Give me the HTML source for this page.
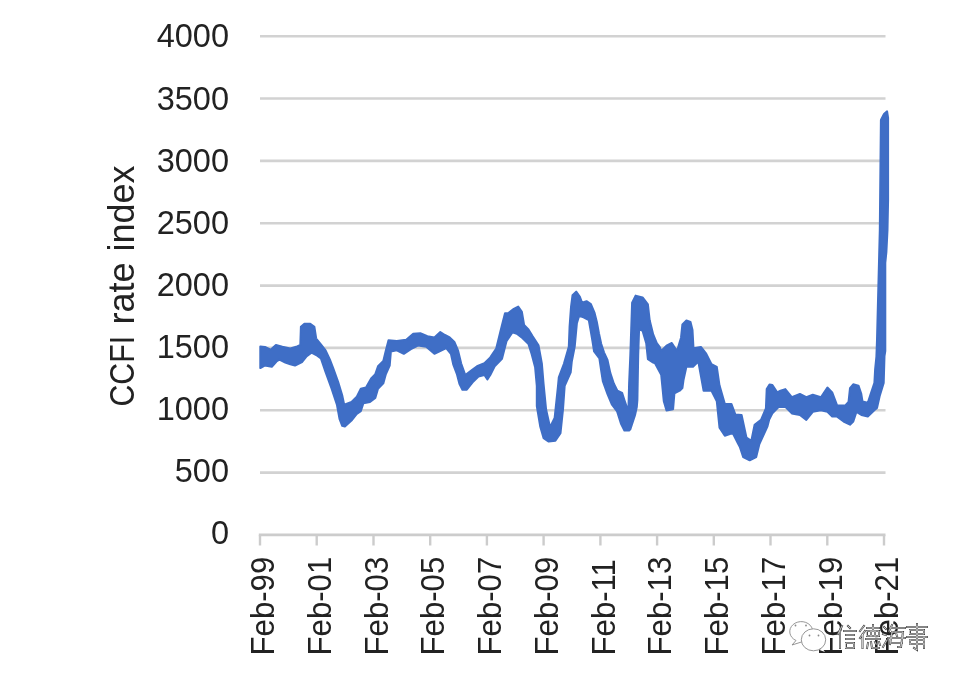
<!DOCTYPE html>
<html><head><meta charset="utf-8"><style>
html,body{margin:0;padding:0;background:#fff;width:960px;height:680px;overflow:hidden}
svg{display:block;filter:blur(0.45px)}
text{font-family:"Liberation Sans",sans-serif;fill:#222}
</style></head><body>
<svg width="960" height="680" viewBox="0 0 960 680">
<rect width="960" height="680" fill="#fff"/>
<line x1="260" y1="36.2" x2="885.5" y2="36.2" stroke="#d2d2d2" stroke-width="2.6"/><line x1="260" y1="98.5" x2="885.5" y2="98.5" stroke="#d2d2d2" stroke-width="2.6"/><line x1="260" y1="160.9" x2="885.5" y2="160.9" stroke="#d2d2d2" stroke-width="2.6"/><line x1="260" y1="223.2" x2="885.5" y2="223.2" stroke="#d2d2d2" stroke-width="2.6"/><line x1="260" y1="285.6" x2="885.5" y2="285.6" stroke="#d2d2d2" stroke-width="2.6"/><line x1="260" y1="347.9" x2="885.5" y2="347.9" stroke="#d2d2d2" stroke-width="2.6"/><line x1="260" y1="410.2" x2="885.5" y2="410.2" stroke="#d2d2d2" stroke-width="2.6"/><line x1="260" y1="472.6" x2="885.5" y2="472.6" stroke="#d2d2d2" stroke-width="2.6"/><line x1="258.8" y1="534.9" x2="885.5" y2="534.9" stroke="#cccccc" stroke-width="2.6"/><line x1="260.0" y1="534.9" x2="260.0" y2="545.5" stroke="#cccccc" stroke-width="2.4"/><line x1="316.7" y1="534.9" x2="316.7" y2="545.5" stroke="#cccccc" stroke-width="2.4"/><line x1="373.5" y1="534.9" x2="373.5" y2="545.5" stroke="#cccccc" stroke-width="2.4"/><line x1="430.2" y1="534.9" x2="430.2" y2="545.5" stroke="#cccccc" stroke-width="2.4"/><line x1="486.9" y1="534.9" x2="486.9" y2="545.5" stroke="#cccccc" stroke-width="2.4"/><line x1="543.6" y1="534.9" x2="543.6" y2="545.5" stroke="#cccccc" stroke-width="2.4"/><line x1="600.4" y1="534.9" x2="600.4" y2="545.5" stroke="#cccccc" stroke-width="2.4"/><line x1="657.1" y1="534.9" x2="657.1" y2="545.5" stroke="#cccccc" stroke-width="2.4"/><line x1="713.8" y1="534.9" x2="713.8" y2="545.5" stroke="#cccccc" stroke-width="2.4"/><line x1="770.5" y1="534.9" x2="770.5" y2="545.5" stroke="#cccccc" stroke-width="2.4"/><line x1="827.3" y1="534.9" x2="827.3" y2="545.5" stroke="#cccccc" stroke-width="2.4"/><line x1="884.0" y1="534.9" x2="884.0" y2="545.5" stroke="#cccccc" stroke-width="2.4"/>
<g font-size="32.5" ><text transform="translate(229,47.4) scale(1.0,1)" text-anchor="end">4000</text><text transform="translate(229,109.5) scale(1.0,1)" text-anchor="end">3500</text><text transform="translate(229,171.6) scale(1.0,1)" text-anchor="end">3000</text><text transform="translate(229,233.8) scale(1.0,1)" text-anchor="end">2500</text><text transform="translate(229,295.9) scale(1.0,1)" text-anchor="end">2000</text><text transform="translate(229,358.0) scale(1.0,1)" text-anchor="end">1500</text><text transform="translate(229,420.1) scale(1.0,1)" text-anchor="end">1000</text><text transform="translate(229,482.2) scale(1.0,1)" text-anchor="end">500</text><text transform="translate(229,544.3) scale(1.0,1)" text-anchor="end">0</text></g>
<g font-size="33" ><text transform="translate(274.2,655.5) rotate(-90) scale(0.945,1)">Feb-99</text><text transform="translate(330.9,655.5) rotate(-90) scale(0.945,1)">Feb-01</text><text transform="translate(387.7,655.5) rotate(-90) scale(0.945,1)">Feb-03</text><text transform="translate(444.4,655.5) rotate(-90) scale(0.945,1)">Feb-05</text><text transform="translate(501.1,655.5) rotate(-90) scale(0.945,1)">Feb-07</text><text transform="translate(557.8,655.5) rotate(-90) scale(0.945,1)">Feb-09</text><text transform="translate(614.6,655.5) rotate(-90) scale(0.945,1)">Feb-11</text><text transform="translate(671.3,655.5) rotate(-90) scale(0.945,1)">Feb-13</text><text transform="translate(728.0,655.5) rotate(-90) scale(0.945,1)">Feb-15</text><text transform="translate(784.7,655.5) rotate(-90) scale(0.945,1)">Feb-17</text><text transform="translate(841.5,655.5) rotate(-90) scale(0.945,1)">Feb-19</text><text transform="translate(898.2,655.5) rotate(-90) scale(0.945,1)">Feb-21</text></g>
<g font-size="36"><text transform="translate(134,406.5) rotate(-90) scale(0.84,1)">CCFI</text><text transform="translate(134,324.5) rotate(-90) scale(1.0,1)">rate</text><text transform="translate(134,251.5) rotate(-90) scale(1.0,1)">index</text></g>
<polygon points="260.3,346.5 265,347 270.6,349.7 275.9,345 282.4,346.8 290.3,348.5 296.2,346.8 300.3,345 300.9,326.8 304.4,323.8 310.3,323.8 314.4,326.8 316.2,338.5 320.9,344.4 325.6,350.3 330.3,360.5 333,367.5 338.2,382 342.2,395.3 344.2,404.6 351.5,402 356.8,396.7 360.8,388.7 366,387.4 371.4,378.1 375.3,374.1 378,366.2 383.3,360.9 385.9,350.3 388.5,340.3 396.8,340.9 406.2,339.7 413.2,333.8 420.3,333.2 427.4,336.2 434.4,337.4 440.3,332 445,335 449.7,337.4 454.4,342 458,350.3 461.2,363.5 465.3,375 471.2,370.6 477,366.2 484.4,363.2 490.3,357.4 496.2,348.5 499.1,336.8 502,325 505,313.2 508,313.2 513.8,308.8 518.2,306.6 521.9,311.8 524.1,325 528.5,329.4 532.5,336 538.5,345.2 541.9,363.8 543.6,384.1 546.1,409.5 549.5,424.7 550.4,426.4 554.6,418 558,385.8 558.8,377.3 563.9,363.8 568.8,346.8 569.6,326.2 571,307 572.5,295.3 576.2,291.6 579.9,296.8 582,302.6 586.5,301.2 590.9,304.1 594.6,312.9 596.8,321.8 599,333.5 601.2,343.8 604.1,352.6 607.5,360 610.3,372.9 613.8,383.5 617.4,390.6 622.1,392.9 624.4,400 626.8,407.1 628.5,407.1 629.1,383.5 630.3,355.6 632.1,302.6 635.6,295.6 642.6,297.4 647.9,304.4 649.7,320.3 653.2,334.4 656.8,343.2 659.8,347 661.2,351 666.5,345.6 671.8,343 677,351 681,337.7 682.4,324.4 686.4,320.5 690.5,322 692.5,330 693.5,348.3 700.9,347 706.2,353.6 711.5,364.2 716.8,366.8 719.5,385.4 724.8,403.9 731.4,403.9 735.4,414.5 741.6,415 746.5,437.7 751.3,440.9 754.6,424.7 761,419.9 765.9,408.5 766.7,389.1 769.5,384.5 772.4,385.1 777.2,392.4 780.5,390.7 785.3,389.1 791.8,397.2 799.9,394 806.3,397.2 812.8,394.8 820.9,397.2 827.4,387.5 832.2,392.4 837.1,405.3 845.3,405.4 848.5,402 850,388.2 853.2,384.3 858.5,385.6 861.2,393.5 862.5,401.5 867.8,402.8 870.4,394.8 874.4,382.9 875.1,369.7 876.4,356.5 877,340 879.8,230 880.9,120 884,114 887.1,111.3 888.1,118 888.1,200 887.5,230 886.4,252 885.3,263 885.3,351 884.5,356 883.7,383 879.7,396 877,408 874.3,410.2 867.8,416.6 861.4,415 856.5,411.8 853.3,421.5 850,424.7 843.6,421.5 837.1,416.6 832.2,416.6 827.4,411.8 820.9,410.2 812.8,411.8 806.3,419.9 799.9,415 791.8,413.4 785.3,406.9 778.8,406.9 772.4,413.4 769.1,419.9 767.5,426.3 759.4,444.1 756.2,457.1 749.7,460.3 743.2,457.1 740,447.4 738,443.6 732.7,433 724.8,435.7 719.5,427.7 716.8,401.3 711.5,390.7 703.6,390.7 698.3,361.5 693,366.8 686.4,366.8 683.5,380 682.4,388 679.7,390.7 674.4,393.3 673.1,409.2 666.5,410.5 663.8,401.3 661.2,374.8 655,363.2 653.2,362.6 647.9,359.1 646.2,343.2 642.6,330.9 639.1,329.1 638.2,355.6 637.4,400 636.8,407.1 635,415.3 630.3,429.4 629.1,430.6 624.4,430.6 620.9,423.5 617.1,411.5 611.8,404.4 607.4,393.8 602.9,381.5 601.2,370.9 599.4,358.5 594.1,351.5 592.4,340.9 590.6,330.3 588.8,320 583.5,317.4 579.1,315.9 576.9,323.2 574.7,346.8 571.8,361.5 570.7,372.3 564.7,385.8 563,409.5 560.5,433.1 555.4,440.8 548.7,441.6 543.6,438.2 540.2,426.4 536.8,406 536.8,385.8 535.1,367.2 531.6,354 528.5,344.1 522.6,338.2 516.8,333.8 512.4,332.4 506.5,341.2 502,358.8 494.7,366.2 490.3,375 487.4,379.4 484.4,375 478.5,376.5 472.6,382.4 466.8,389.7 462.4,389.7 459.4,383.8 456.8,373.8 453.2,364.4 450.9,353.8 446.2,348 439.1,351.5 434.4,353.8 426.2,346.8 417.9,345.6 410.9,349.1 403.8,353.8 396.8,350.3 390.9,351.5 389.7,365.6 385.9,374.1 383.3,383.4 378,388.7 375.3,398 370,402 363.4,403.3 360.8,411.2 356.8,413.9 351.5,420.5 344.9,426.5 342.2,425.8 339.6,419.2 336.9,404.6 331.6,388.7 325.5,372 320.9,358.5 316.2,355 311.5,352.6 306.8,356.2 302,362 295,365.6 290.3,364.4 285.3,362.6 279.4,359.7 276.5,361.5 271.8,366.8 264.7,365.6 260.3,368" fill="#3f6ec6" stroke="#3f6ec6" stroke-width="2" stroke-linejoin="round"/>
<g fill="#fff" stroke="#8a8a8a" stroke-width="0.9">
<path d="M792,645 L796,640.5 A11.5,10 0 1 1 803,641.5 Z"/>
<ellipse cx="813.5" cy="639.8" rx="12.2" ry="11"/>
<path d="M822,648 L825,652 L819.5,650 Z" stroke="none"/>
</g>
<g fill="#8a8a8a"><circle cx="795.5" cy="625.5" r="0.9"/><circle cx="806" cy="625.5" r="0.9"/><circle cx="809.5" cy="635.5" r="0.9"/><circle cx="818.5" cy="635.5" r="0.9"/></g>
<g fill="none" stroke-linecap="square">
<path stroke="#444" stroke-width="2" d="M842,626 L838,634 M840,631 L840,648 M848,626 L850,628 M844,631 L856,631 M846,635 L854,635 M846,639 L854,639 M846,643 L854,643 L854,648 L846,648 Z"/>
<path stroke="#444" stroke-width="2" d="M864,626 L860,631 M865,631 L860,638 M862.5,634.5 L862.5,648 M873,625 L873,631 M867,628 L879,628 M867,631 L879,631 L879,636 L867,636 Z M871,631 L871,636 M875,631 L875,636 M866,639 L880,639 M867,648 L868,643 M871,642 L872,648 L879,648 M875,642 L876,644 M879,642 L880,645"/>
<path stroke="#444" stroke-width="2" d="M884,627 L886,629 M883,634 L886,635 M883,647 L887,640 M892,625 L889,631 M891,628 L905,628 M892,632 L903,632 L901,647 L898,647 M892,632 L890,644 M888,638 L905,638 M891,643 L902,643 M896,633 L897,636"/>
<path stroke="#444" stroke-width="2" d="M907,627 L927,627 M910,630 L924,630 L924,634 L910,634 Z M907,637 L927,637 M910,640 L924,640 M910,644 L924,644 M910,640 L910,644 M924,637 L924,648 M917,624 L917,650 L914,648"/>
<path stroke="#fff" stroke-width="0.7" d="M842,626 L838,634 M840,631 L840,648 M848,626 L850,628 M844,631 L856,631 M846,635 L854,635 M846,639 L854,639 M846,643 L854,643 L854,648 L846,648 Z"/>
<path stroke="#fff" stroke-width="0.7" d="M864,626 L860,631 M865,631 L860,638 M862.5,634.5 L862.5,648 M873,625 L873,631 M867,628 L879,628 M867,631 L879,631 L879,636 L867,636 Z M871,631 L871,636 M875,631 L875,636 M866,639 L880,639 M867,648 L868,643 M871,642 L872,648 L879,648 M875,642 L876,644 M879,642 L880,645"/>
<path stroke="#fff" stroke-width="0.7" d="M884,627 L886,629 M883,634 L886,635 M883,647 L887,640 M892,625 L889,631 M891,628 L905,628 M892,632 L903,632 L901,647 L898,647 M892,632 L890,644 M888,638 L905,638 M891,643 L902,643 M896,633 L897,636"/>
<path stroke="#fff" stroke-width="0.7" d="M907,627 L927,627 M910,630 L924,630 L924,634 L910,634 Z M907,637 L927,637 M910,640 L924,640 M910,644 L924,644 M910,640 L910,644 M924,637 L924,648 M917,624 L917,650 L914,648"/>
</g>
</svg>
</body></html>
